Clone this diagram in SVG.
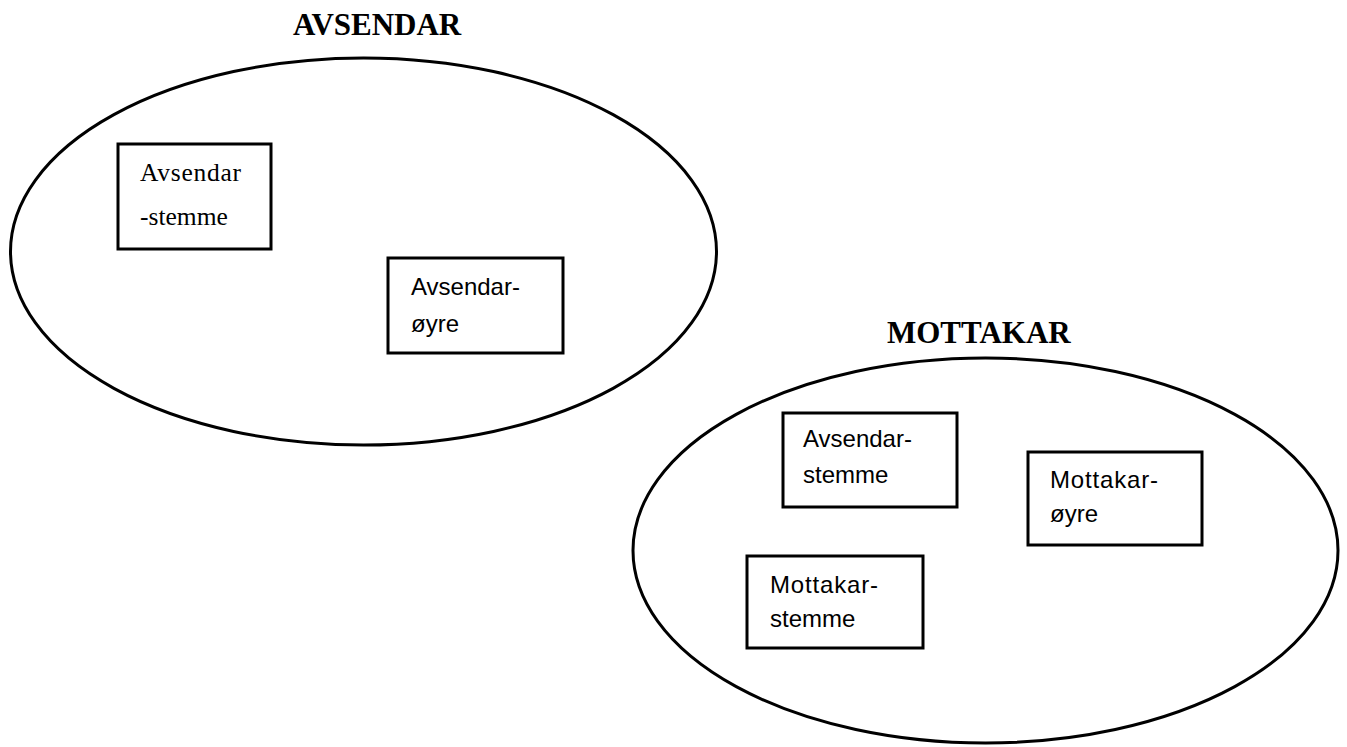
<svg xmlns="http://www.w3.org/2000/svg" width="1347" height="747" viewBox="0 0 1347 747">
<style>
.grp{fill:none;stroke:#000;stroke-width:3}
.box{fill:#fff;stroke:#000;stroke-width:3}
.title{font-family:"Liberation Serif","Times New Roman",serif;font-weight:bold;font-size:31px;fill:#000}
.serif{font-family:"Liberation Serif","Times New Roman",serif;font-size:25.5px;fill:#000}
.sans{font-family:"Liberation Sans",Arial,sans-serif;font-size:24px;fill:#000}
</style>
<rect width="1347" height="747" fill="#fff"/>
<g id="avsendar">
<ellipse class="grp" cx="363.5" cy="251.5" rx="353" ry="193.5"/>
<text class="title" x="293" y="35">AVSENDAR</text>
</g>
<g id="mottakar">
<ellipse class="grp" cx="985.5" cy="550.5" rx="352.5" ry="192.5"/>
<text class="title" x="887" y="343">MOTTAKAR</text>
</g>
<g id="avsendar-stemme-1">
<rect class="box" x="118" y="144" width="153" height="105"/>
<text class="serif" x="140" y="181" textLength="101" lengthAdjust="spacing">Avsendar</text>
<text class="serif" x="140" y="225">-stemme</text>
</g>
<g id="avsendar-oyre">
<rect class="box" x="388" y="258" width="175" height="95"/>
<text class="sans" x="411" y="295">Avsendar-</text>
<text class="sans" x="411" y="332">øyre</text>
</g>
<g id="avsendar-stemme-2">
<rect class="box" x="783" y="413" width="174" height="94"/>
<text class="sans" x="803" y="447">Avsendar-</text>
<text class="sans" x="803" y="483">stemme</text>
</g>
<g id="mottakar-oyre">
<rect class="box" x="1028" y="452" width="174" height="93"/>
<text class="sans" x="1050" y="488" textLength="108" lengthAdjust="spacing">Mottakar-</text>
<text class="sans" x="1050" y="522">øyre</text>
</g>
<g id="mottakar-stemme">
<rect class="box" x="747" y="556" width="176" height="92"/>
<text class="sans" x="770" y="593" textLength="108" lengthAdjust="spacing">Mottakar-</text>
<text class="sans" x="770" y="627">stemme</text>
</g>
<g id="connectors"></g>
</svg>
